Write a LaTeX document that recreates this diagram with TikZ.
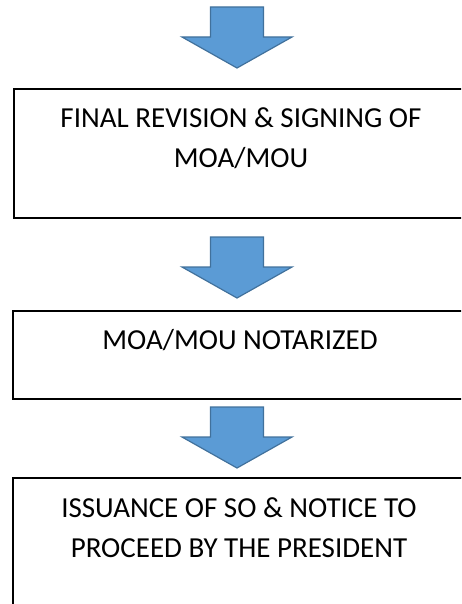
\documentclass[tikz,border=0pt]{standalone}
\usepackage{fontspec}
\setmainfont{Carlito}
\begin{document}
\begin{tikzpicture}[x=1pt,y=-1pt,
  stagebox/.style={draw=black,line width=2pt,rectangle,anchor=north west,
    minimum width=456pt,inner sep=0pt},
  stagetext/.style={anchor=center,align=center,inner sep=0pt,
    font=\fontsize{29}{40}\selectfont},
  flowarrow/.style={draw=arrowedge,fill=arrowfill,line width=1.2pt,line join=miter},
  blockarrow/.pic={
    \draw[flowarrow] (-26.5,0) -- (26.5,0) -- (26.5,30) -- (55,30)
      -- (0,61) -- (-55,30) -- (-26.5,30) -- cycle;
  }]
\definecolor{arrowfill}{HTML}{5B9BD5}
\definecolor{arrowedge}{HTML}{41719C}
\useasboundingbox (0,0) rectangle (461,604);
\clip (0,0) rectangle (461,604);

% process stages
\node[stagebox,minimum height=129pt] (box1) at (13,88) {};
\node[stagebox,minimum height=88pt] (box2) at (12,310) {};
\node[stagebox,minimum height=160pt] (box3) at (12,477) {};

\node[stagetext] (txt1) at (241,138) {FINAL REVISION \& SIGNING OF\\MOA/MOU};
\node[stagetext] (txt2) at (240,340) {MOA/MOU NOTARIZED};
\node[stagetext] (txt3) at (239,528) {ISSUANCE OF SO \& NOTICE TO\\PROCEED BY THE PRESIDENT};

% block arrows leading into each stage
\coordinate (arr1) at (237,7);
\coordinate (arr2) at (237,237);
\coordinate (arr3) at (237,407);
\pic at (arr1) {blockarrow};
\pic at (arr2) {blockarrow};
\pic at (arr3) {blockarrow};
\end{tikzpicture}
\end{document}
